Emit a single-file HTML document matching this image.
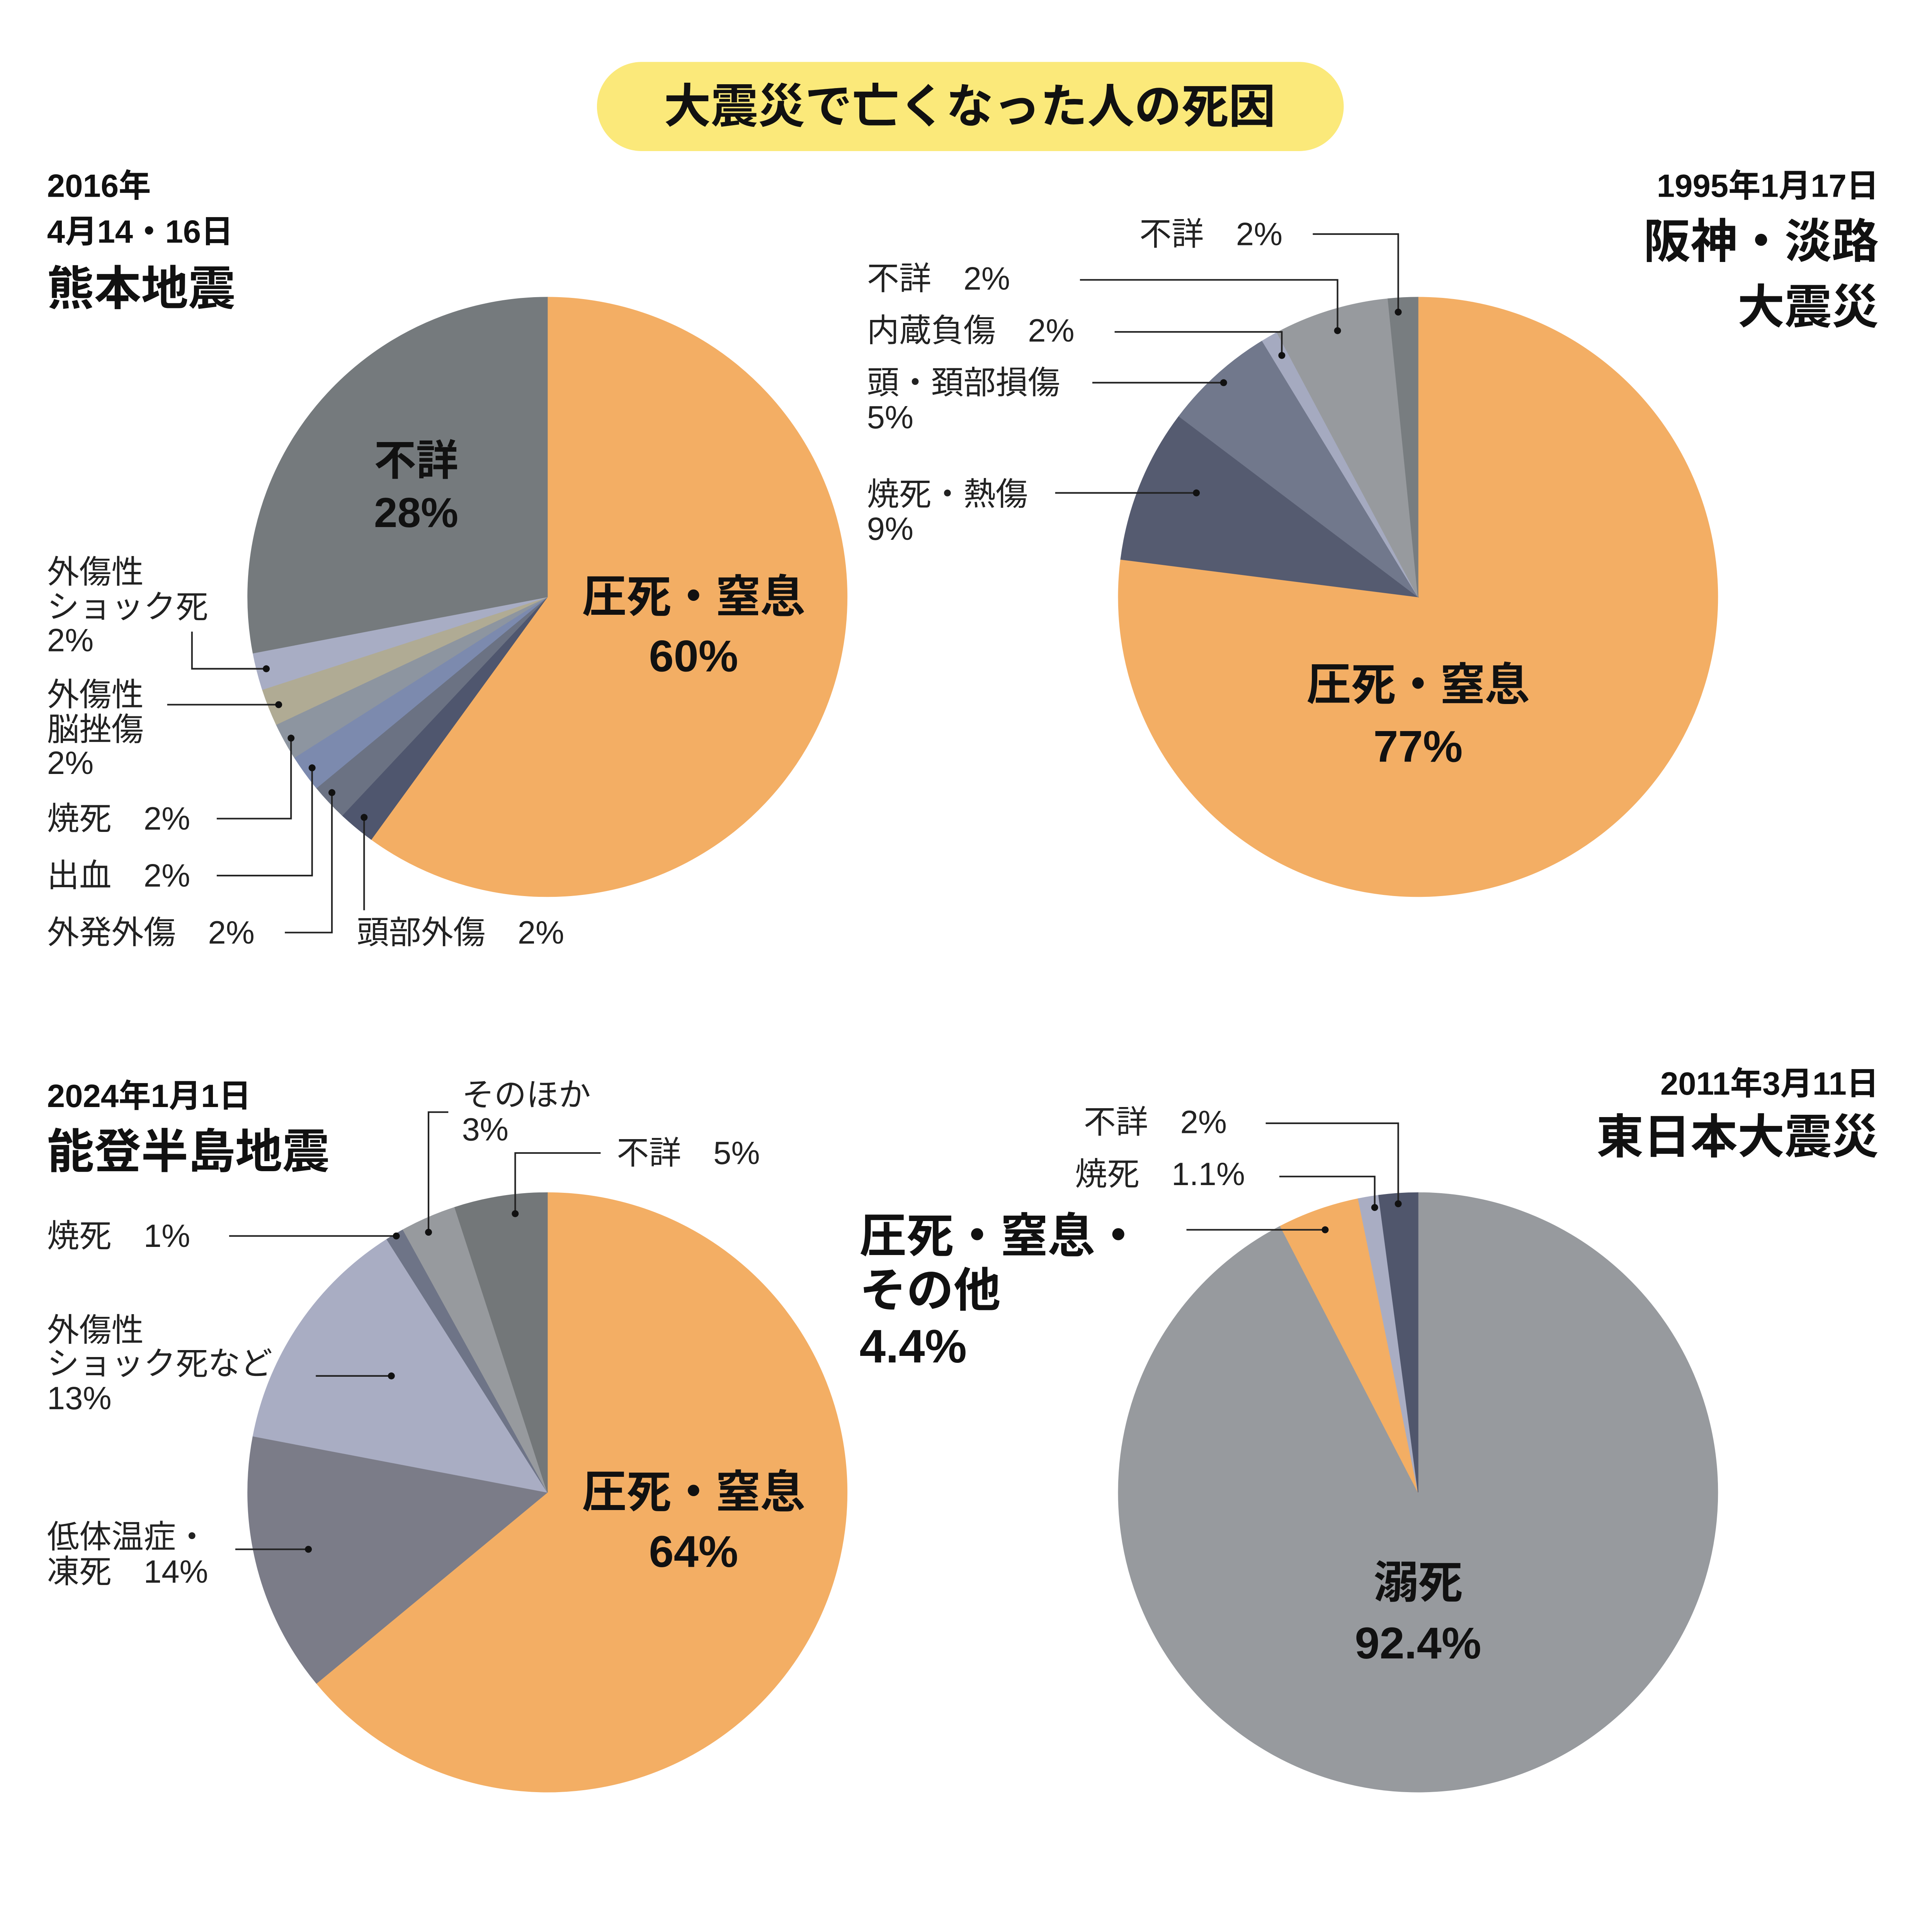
<!DOCTYPE html>
<html><head><meta charset="utf-8"><style>
html,body{margin:0;padding:0;background:#fff;overflow:hidden;}
svg{display:block;width:100vw;height:95.467vw;}
text{font-family:"Liberation Sans","Noto Sans CJK JP",sans-serif;dominant-baseline:central;}
.s{font-size:26px;fill:#222;}
.b{font-weight:bold;fill:#111;}
.l{stroke:#222;stroke-width:1.3;fill:none;}
</style></head><body>
<svg viewBox="0 0 1560 1489.3" preserveAspectRatio="none" xmlns="http://www.w3.org/2000/svg">
<rect width="1560" height="1490" fill="#fff"/>
<rect x="482" y="50" width="603" height="72" rx="36" fill="#fbe97a"/>
<text x="783" y="86" text-anchor="middle" class="b" style="font-size:38px">大震災で亡くなった人の死因</text>
<g id="pies"></g>

<text x="38" y="150" class="b" style="font-size:26px">2016年</text>
<text x="38" y="187" class="b" style="font-size:26px">4月14・16日</text>
<text x="38" y="233" class="b" style="font-size:38px">熊本地震</text>
<text x="336" y="372" text-anchor="middle" class="b" style="font-size:34px">不詳</text>
<text x="336" y="414" text-anchor="middle" class="b" style="font-size:34px">28%</text>
<text x="560" y="482" text-anchor="middle" class="b" style="font-size:36px">圧死・窒息</text>
<text x="560" y="530" text-anchor="middle" class="b" style="font-size:36px">60%</text>
<text x="38" y="462" class="s">外傷性</text>
<text x="38" y="490" class="s">ショック死</text>
<text x="38" y="517" class="s">2%</text>
<polyline class="l" points="155,510 155,540 215,540"/>
<text x="38" y="561" class="s">外傷性</text>
<text x="38" y="589" class="s">脳挫傷</text>
<text x="38" y="616" class="s">2%</text>
<polyline class="l" points="135,569 225,569"/>
<text x="38" y="661" class="s">焼死　2%</text>
<polyline class="l" points="175,661 235,661 235,596"/>
<text x="38" y="707" class="s">出血　2%</text>
<polyline class="l" points="175,707 252,707 252,620"/>
<text x="38" y="753" class="s">外発外傷　2%</text>
<polyline class="l" points="230,753 268,753 268,640"/>
<text x="288" y="753" class="s">頭部外傷　2%</text>
<polyline class="l" points="294,735 294,660"/>
<g fill="#111"><circle cx="215" cy="540" r="2.8"/><circle cx="225" cy="569" r="2.8"/><circle cx="235" cy="596" r="2.8"/><circle cx="252" cy="620" r="2.8"/><circle cx="268" cy="640" r="2.8"/><circle cx="294" cy="660" r="2.8"/></g>

<text x="1517" y="150" text-anchor="end" class="b" style="font-size:26px">1995年1月17日</text>
<text x="1517" y="195" text-anchor="end" class="b" style="font-size:38px">阪神・淡路</text>
<text x="1517" y="248" text-anchor="end" class="b" style="font-size:38px">大震災</text>
<text x="1145" y="553" text-anchor="middle" class="b" style="font-size:36px">圧死・窒息</text>
<text x="1145" y="603" text-anchor="middle" class="b" style="font-size:36px">77%</text>
<text x="920" y="189" class="s">不詳　2%</text>
<polyline class="l" points="1060,189 1129,189 1129,252"/>
<text x="700" y="225" class="s">不詳　2%</text>
<polyline class="l" points="872,226 1080,226 1080,267"/>
<text x="700" y="267" class="s">内蔵負傷　2%</text>
<polyline class="l" points="900,268 1035,268 1035,287"/>
<text x="700" y="309" class="s">頭・頚部損傷</text>
<text x="700" y="337" class="s">5%</text>
<polyline class="l" points="882,309 988,309"/>
<text x="700" y="399" class="s">焼死・熱傷</text>
<text x="700" y="427" class="s">9%</text>
<polyline class="l" points="852,398 966,398"/>
<g fill="#111"><circle cx="1129" cy="252" r="2.8"/><circle cx="1080" cy="267" r="2.8"/><circle cx="1035" cy="287" r="2.8"/><circle cx="988" cy="309" r="2.8"/><circle cx="966" cy="398" r="2.8"/></g>

<text x="38" y="885" class="b" style="font-size:26px">2024年1月1日</text>
<text x="38" y="930" class="b" style="font-size:38px">能登半島地震</text>
<text x="560" y="1205" text-anchor="middle" class="b" style="font-size:36px">圧死・窒息</text>
<text x="560" y="1253" text-anchor="middle" class="b" style="font-size:36px">64%</text>
<text x="373" y="884" class="s">そのほか</text>
<text x="373" y="912" class="s">3%</text>
<polyline class="l" points="362,898 346,898 346,995"/>
<text x="498" y="931" class="s">不詳　5%</text>
<polyline class="l" points="485,931 416,931 416,980"/>
<text x="38" y="998" class="s">焼死　1%</text>
<polyline class="l" points="185,998 320,998"/>
<text x="38" y="1074" class="s">外傷性</text>
<text x="38" y="1101" class="s">ショック死など</text>
<text x="38" y="1129" class="s">13%</text>
<polyline class="l" points="255,1111 316,1111"/>
<text x="38" y="1241" class="s">低体温症・</text>
<text x="38" y="1269" class="s">凍死　14%</text>
<polyline class="l" points="190,1251 249,1251"/>
<g fill="#111"><circle cx="346" cy="995" r="2.8"/><circle cx="416" cy="980" r="2.8"/><circle cx="320" cy="998" r="2.8"/><circle cx="316" cy="1111" r="2.8"/><circle cx="249" cy="1251" r="2.8"/></g>

<text x="1517" y="875" text-anchor="end" class="b" style="font-size:26px">2011年3月11日</text>
<text x="1517" y="918" text-anchor="end" class="b" style="font-size:38px">東日本大震災</text>
<text x="1145" y="1278" text-anchor="middle" class="b" style="font-size:36px">溺死</text>
<text x="1145" y="1327" text-anchor="middle" class="b" style="font-size:36px">92.4%</text>
<text x="875" y="906" class="s">不詳　2%</text>
<polyline class="l" points="1022,907 1129,907 1129,972"/>
<text x="868" y="948" class="s">焼死　1.1%</text>
<polyline class="l" points="1033,950 1110,950 1110,975"/>
<text x="694" y="998" class="b" style="font-size:38px">圧死・窒息・</text>
<text x="694" y="1042" class="b" style="font-size:38px">その他</text>
<text x="694" y="1087" class="b" style="font-size:38px">4.4%</text>
<polyline class="l" points="958,993 1070,993"/>
<g fill="#111"><circle cx="1129" cy="972" r="2.8"/><circle cx="1110" cy="975" r="2.8"/><circle cx="1070" cy="993" r="2.8"/></g>
</svg>
<script>
(function(){
var g=document.getElementById('pies');var NS='http://www.w3.org/2000/svg';
function pie(cx,cy,r,sl){var a=0;sl.forEach(function(s){var b=a+s[0]*3.6;
var a1=(a-90)*Math.PI/180,a2=(b-90)*Math.PI/180;
var x1=cx+r*Math.cos(a1),y1=cy+r*Math.sin(a1),x2=cx+r*Math.cos(a2),y2=cy+r*Math.sin(a2);
var p=document.createElementNS(NS,'path');
p.setAttribute('d','M'+cx+','+cy+' L'+x1+','+y1+' A'+r+','+r+' 0 '+((b-a)>180?1:0)+' 1 '+x2+','+y2+' Z');
p.setAttribute('fill',s[1]);p.setAttribute('stroke',s[1]);p.setAttribute('stroke-width','0.5');g.appendChild(p);a=b;});}
pie(442,482,242,[[60,'#f3ae64'],[2,'#4f566e'],[2,'#6b7283'],[2,'#7c8aae'],[2,'#8d95a0'],[2,'#b0ab94'],[2,'#a8adc4'],[28,'#757a7d']]);
pie(1145,482,242,[[77,'#f3ae64'],[8.3,'#555b70'],[6,'#71788c'],[0.9,'#a5aac0'],[6.2,'#979a9e'],[1.6,'#787d80']]);
pie(442,1205,242,[[64,'#f3ae64'],[14,'#7b7c88'],[13,'#a9adc3'],[1,'#6e7487'],[3,'#979a9e'],[5,'#737779']]);
pie(1145,1205,242,[[92.4,'#979a9e'],[4.4,'#f3ae64'],[1.1,'#a9adc3'],[2.1,'#50566c']]);
})();
</script>
</body></html>
